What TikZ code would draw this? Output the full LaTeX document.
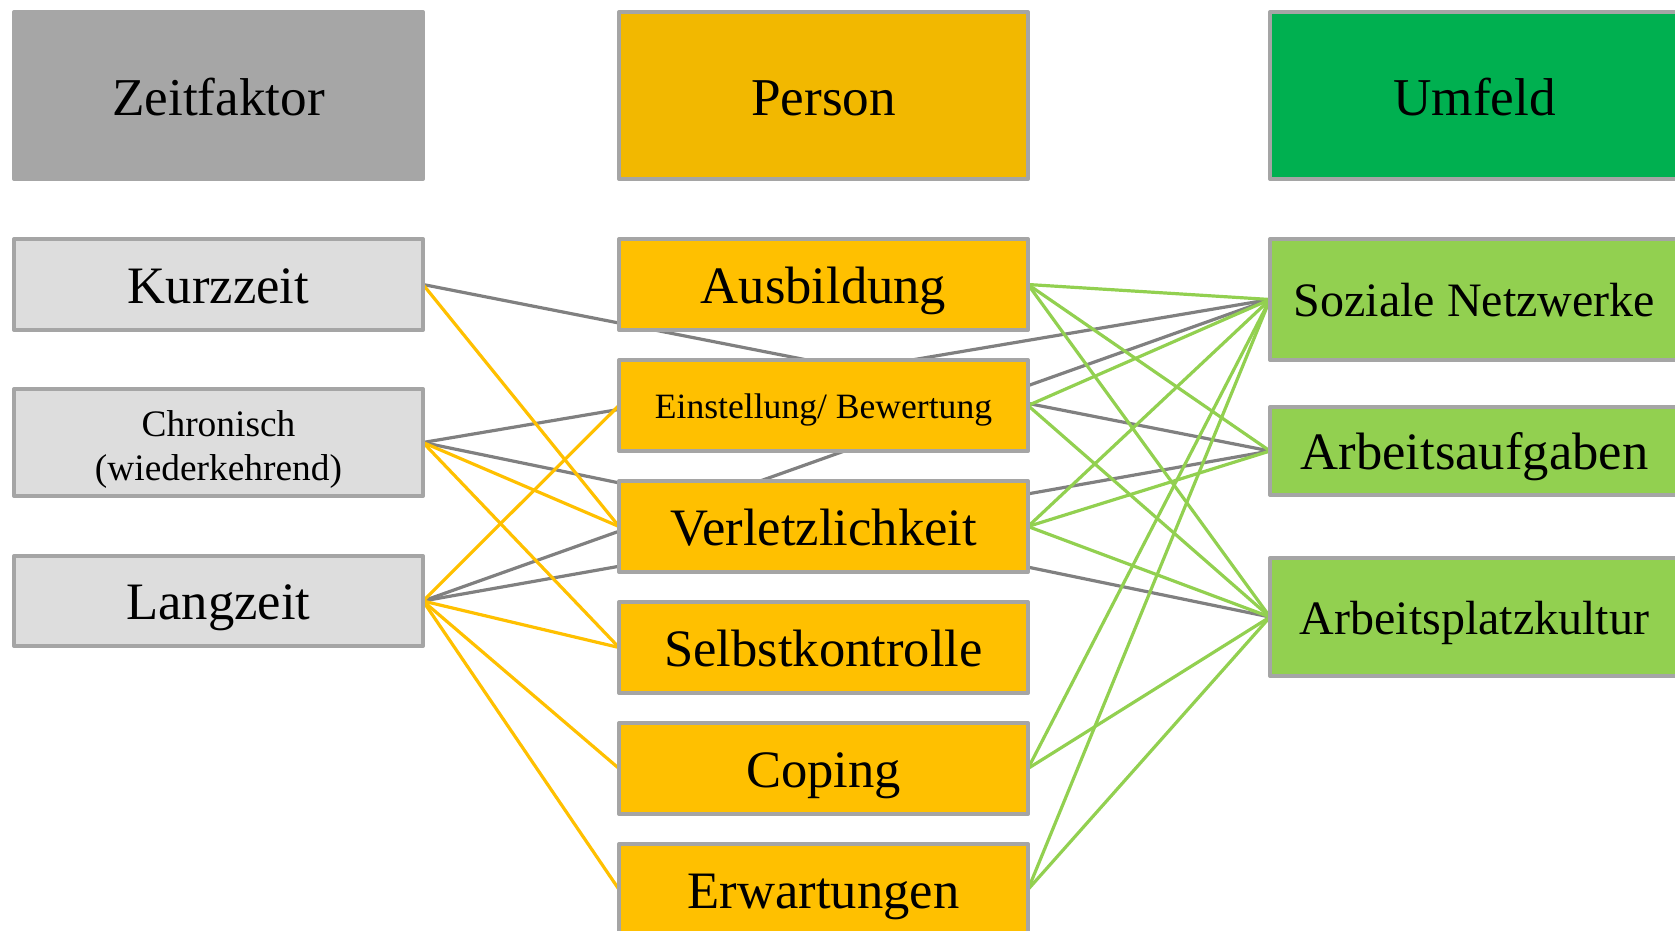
\documentclass[tikz,border=0pt]{standalone}
\usepackage{fontspec}
\setmainfont{Liberation Serif}
\usetikzlibrary{backgrounds}
\definecolor{zeitdunkel}{HTML}{A6A6A6}
\definecolor{zeithell}{HTML}{DDDDDD}
\definecolor{rahmen}{HTML}{A5A5A5}
\definecolor{persdunkel}{HTML}{F2B800}
\definecolor{pershell}{HTML}{FFC000}
\definecolor{umfdunkel}{HTML}{00B050}
\definecolor{umfhell}{HTML}{92D050}
\definecolor{linie}{HTML}{808080}
\tikzset{
	kasten/.style={draw=rahmen, line width=2pt, minimum width=204.5pt, inner sep=0pt, outer sep=0pt, align=center,
		font=\fontsize{26.3}{30}\selectfont, text height=20pt, text depth=1.3pt},
	kopf/.style={kasten, minimum height=83.5pt, font=\fontsize{26.6}{30}\selectfont, text height=21pt, text depth=1pt},
	klein/.style={font=\fontsize{24}{28}\selectfont, text height=18.2pt, text depth=1.2pt},
	zeitbox/.style={kasten, fill=zeithell},
	persbox/.style={kasten, fill=pershell, minimum height=45.5pt},
	umfbox/.style={kasten, fill=umfhell},
	verb/.style={line width=1.6pt}
}
\begin{document}
\begin{tikzpicture}[x=.5pt, y=-.5pt, line join=round, line cap=round]
		\useasboundingbox (0,0) rectangle (1675,931);
		% Kopfzeile
		\node[kopf, fill=zeitdunkel, draw=zeitdunkel] (zeit) at (218.5,95.5) {Zeitfaktor};
		\node[kopf, fill=persdunkel] (person) at (823.5,95.5) {Person};
		\node[kopf, fill=umfdunkel] (umfeld) at (1474.5,95.5) {Umfeld};
		% Zeitfaktor
		\node[zeitbox, minimum height=45.5pt] (kurz) at (218.5,284.5) {Kurzzeit};
		\node[zeitbox, minimum height=53.5pt, font=\fontsize{18.7}{22}\selectfont, text height=, text depth=] (chron) at (218.5,442.5)
		{\raisebox{-3.75pt}[\height][\depth]{\begin{tabular}{@{}c@{}}Chronisch\\(wiederkehrend)\end{tabular}}};
		\node[zeitbox, minimum height=45pt] (lang) at (218.5,601) {Langzeit};
		% Person
		\node[persbox] (ausb) at (823.5,284.5) {Ausbildung};
		\node[persbox, font=\fontsize{17.8}{21}\selectfont, text height=13.5pt, text depth=.7pt] (einst) at (823.5,405.5) {Einstellung/ Bewertung};
		\node[persbox] (verl) at (823.5,526.5) {Verletzlichkeit};
		\node[persbox] (selbst) at (823.5,647.5) {Selbstkontrolle};
		\node[persbox] (coping) at (823.5,768.5) {Coping};
		\node[persbox] (erw) at (823.5,889.5) {Erwartungen};
		% Umfeld
		\node[umfbox, klein, minimum height=60.5pt] (sozial) at (1474.5,299.5) {Soziale Netzwerke};
		\node[umfbox, minimum height=44pt] (aufg) at (1474.5,451) {Arbeitsaufgaben};
		\node[umfbox, klein, minimum height=59pt] (kultur) at (1474.5,617) {Arbeitsplatzkultur};
		\begin{scope}[on background layer]
		\foreach \a/\b in {kurz/aufg,chron/sozial,chron/kultur,lang/sozial,lang/aufg}
		\draw[verb, linie] (\a.east)--(\b.west);
		\foreach \a/\b in {kurz/verl,chron/verl,chron/selbst,lang/einst,lang/selbst,lang/coping,lang/erw}
		\draw[verb, pershell] (\a.east)--(\b.west);
		\foreach \a/\b in {ausb/sozial,ausb/aufg,ausb/kultur,einst/sozial,einst/kultur,verl/sozial,verl/aufg,verl/kultur,coping/sozial,coping/kultur,erw/sozial,erw/kultur}
		\draw[verb, umfhell] (\a.east)--(\b.west);
		\end{scope}
\end{tikzpicture}
\end{document}
